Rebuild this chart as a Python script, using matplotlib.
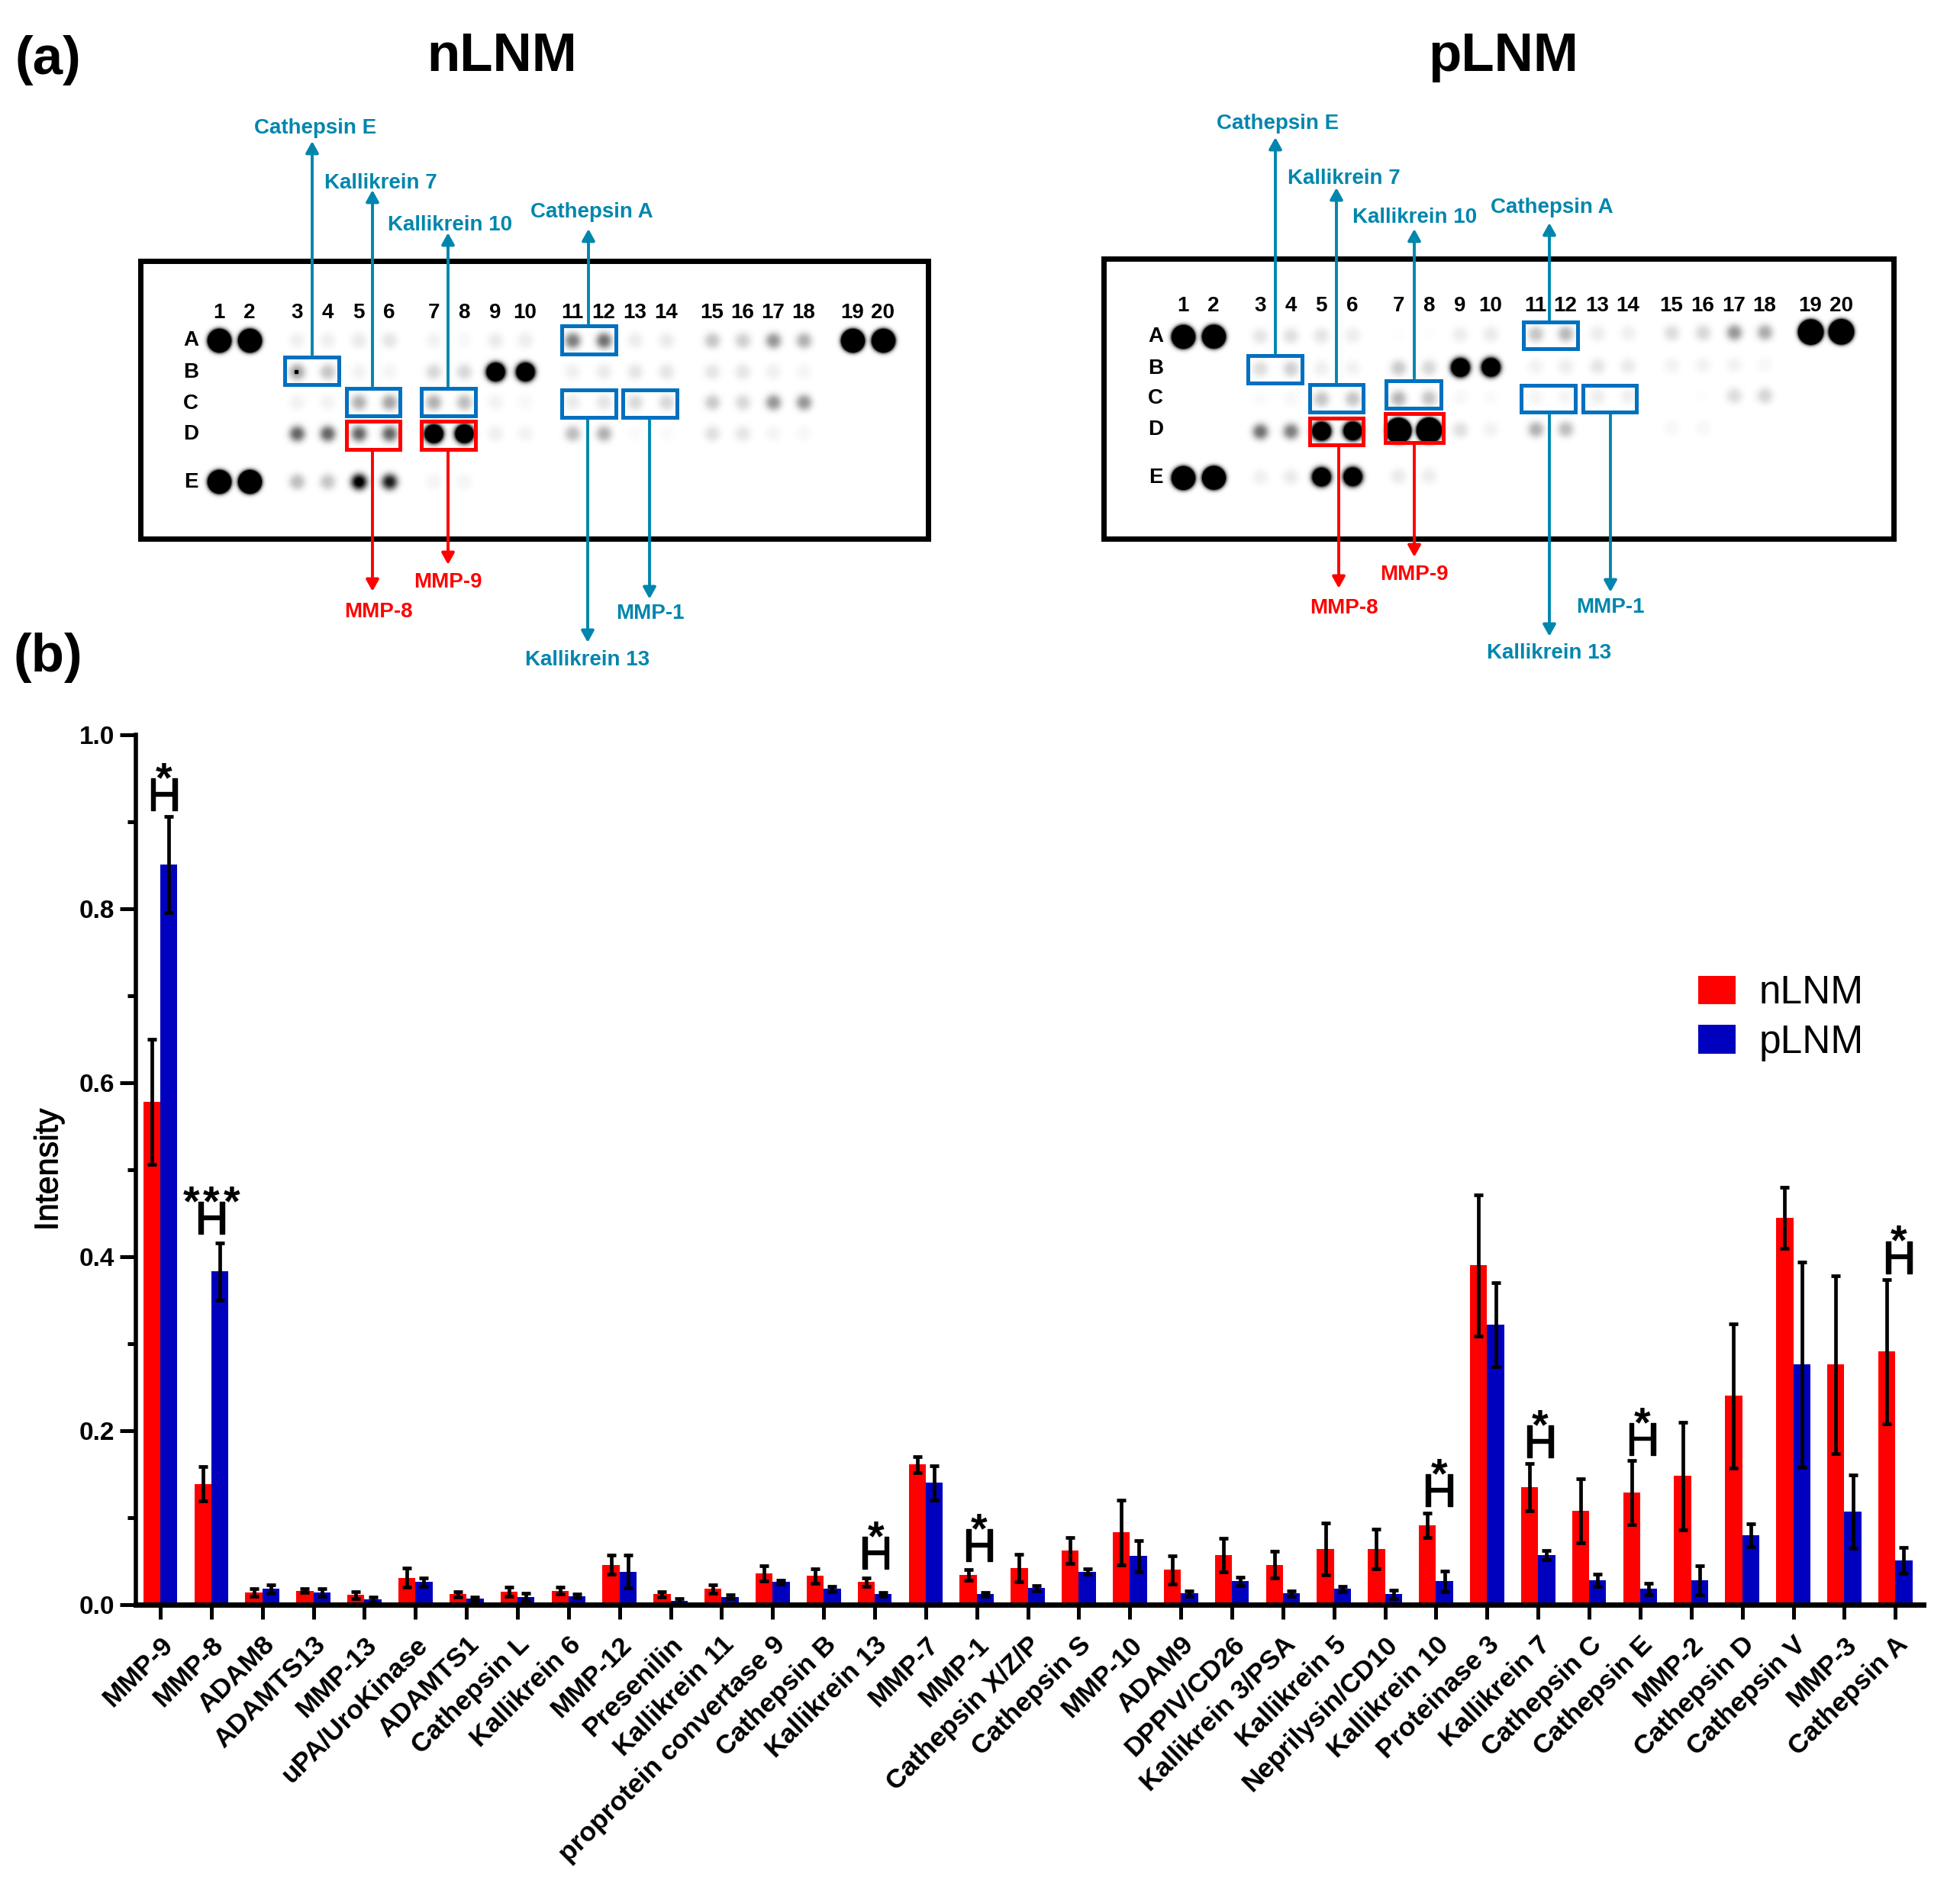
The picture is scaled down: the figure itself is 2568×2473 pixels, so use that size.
import matplotlib
matplotlib.use('Agg')
import matplotlib.pyplot as plt
import matplotlib.patheffects as pe
import numpy as np
from matplotlib.patches import Rectangle
from matplotlib.transforms import ScaledTranslation

plt.rcParams['font.family'] = ['Liberation Sans', 'DejaVu Sans']

# Panel (b) data
proteases = ['MMP-9', 'MMP-8', 'ADAM8', 'ADAMTS13', 'MMP-13', 'uPA/UroKinase', 'ADAMTS1', 'Cathepsin L',
             'Kallikrein 6', 'MMP-12', 'Presenilin', 'Kallikrein 11', 'proprotein convertase 9', 'Cathepsin B',
             'Kallikrein 13', 'MMP-7', 'MMP-1', 'Cathepsin X/Z/P', 'Cathepsin S', 'MMP-10', 'ADAM9', 'DPPIV/CD26',
             'Kallikrein 3/PSA', 'Kallikrein 5', 'Neprilysin/CD10', 'Kallikrein 10', 'Proteinase 3', 'Kallikrein 7',
             'Cathepsin C', 'Cathepsin E', 'MMP-2', 'Cathepsin D', 'Cathepsin V', 'MMP-3', 'Cathepsin A']
nlnm_mean = [0.578, 0.139, 0.014, 0.016, 0.011, 0.031, 0.012, 0.015, 0.016, 0.046, 0.012, 0.018, 0.036, 0.033,
             0.026, 0.161, 0.034, 0.042, 0.062, 0.083, 0.040, 0.057, 0.046, 0.064, 0.064, 0.091, 0.390, 0.135,
             0.108, 0.129, 0.148, 0.240, 0.445, 0.276, 0.291]
nlnm_err = [0.072, 0.020, 0.004, 0.002, 0.004, 0.011, 0.003, 0.005, 0.004, 0.011, 0.003, 0.005, 0.009, 0.008,
            0.005, 0.009, 0.006, 0.016, 0.015, 0.037, 0.016, 0.0195, 0.015, 0.030, 0.023, 0.014, 0.081, 0.027,
            0.037, 0.037, 0.062, 0.083, 0.035, 0.102, 0.083]
plnm_mean = [0.851, 0.383, 0.018, 0.014, 0.006, 0.026, 0.007, 0.009, 0.010, 0.038, 0.004, 0.009, 0.026, 0.018,
             0.012, 0.140, 0.012, 0.019, 0.038, 0.056, 0.013, 0.027, 0.013, 0.018, 0.012, 0.027, 0.322, 0.057,
             0.028, 0.018, 0.028, 0.080, 0.276, 0.107, 0.051]
plnm_err = [0.055, 0.033, 0.005, 0.004, 0.003, 0.005, 0.002, 0.004, 0.002, 0.019, 0.003, 0.002, 0.002, 0.003,
            0.002, 0.0195, 0.002, 0.003, 0.003, 0.018, 0.003, 0.005, 0.003, 0.003, 0.005, 0.012, 0.048, 0.005,
            0.007, 0.007, 0.017, 0.013, 0.118, 0.042, 0.015]

# significance marks
sig_pos = [0.07, 1.0, 14.02, 16.05, 25.06, 27.04, 29.04, 34.07]
sig_val = [0.913, 0.426, 0.041, 0.050, 0.113, 0.169, 0.172, 0.381]
sig_stars = [1, 3, 1, 1, 1, 1, 1, 1]

# Panel (a) spot darkness, rows A-E, columns 1-20
nlnm_spots = [
    [12, 12, .06, .06, .08, .10, .05, .03, .08, .07, .50, .55, .07, .08, .22, .18, .40, .30, 12, 12],
    [0, 0, .35, .22, .05, .04, .15, .15, 3.5, 3.5, .06, .08, .10, .10, .10, .10, .06, .04, 0, 0],
    [0, 0, .05, .05, .30, .35, .30, .25, .05, .03, .08, .10, .14, .15, .20, .15, .40, .40, 0, 0],
    [0, 0, .60, .60, .60, .60, 3.5, 3.5, .06, .05, .25, .30, .02, .02, .12, .10, .04, .03, 0, 0],
    [12, 12, .25, .22, 1.1, .90, .04, .04, 0, 0, 0, 0, 0, 0, 0, 0, 0, 0, 0, 0],
]
plnm_spots = [
    [12, 12, .10, .12, .10, .07, .01, .01, .07, .08, .22, .27, .07, .06, .13, .15, .40, .32, 20, 20],
    [0, 0, .13, .18, .06, .05, .20, .15, 3.5, 3.5, .05, .07, .10, .08, .05, .05, .05, .03, 0, 0],
    [0, 0, .02, .03, .22, .22, .28, .22, .03, .02, .04, .04, .07, .06, 0, .01, .13, .16, 0, 0],
    [0, 0, .55, .50, 3.5, 3.5, 20, 20, .12, .05, .30, .25, 0, 0, .03, .03, 0, 0, 0, 0],
    [12, 12, .06, .08, 3.5, 3.5, .08, .07, 0, 0, 0, 0, 0, 0, 0, 0, 0, 0, 0, 0],
]
row_names = ['A', 'B', 'C', 'D', 'E']

RED = '#ff0000'
NAVY = '#0000bf'
TEAL = '#0086ad'
BOX_BLUE = '#0070c0'

fig = plt.figure(figsize=(25.68, 24.73), dpi=100)
W, H = 2568.0, 2473.0

# Bar chart, axes placed to the pixel
y_top, y_zero, x_left, x_right = 963, 2103, 178, 2520
ax = fig.add_axes([x_left / W, 1 - y_zero / H, (x_right - x_left) / W, (y_zero - y_top) / H])
x = np.arange(len(proteases))
bar_w = 0.334
err_style = dict(ecolor='black', elinewidth=3.4, capsize=4.5, capthick=3.4)
b1 = ax.bar(x - bar_w / 2, nlnm_mean, bar_w, yerr=nlnm_err, color=RED, label='nLNM', error_kw=err_style)
b2 = ax.bar(x + bar_w / 2, plnm_mean, bar_w, yerr=plnm_err, color=NAVY, label='pLNM', error_kw=err_style)

ax.set_xlim(-0.479, 34.55)
ax.set_ylim(0, 1)
ax.spines['top'].set_visible(False)
ax.spines['right'].set_visible(False)
ax.spines['left'].set_linewidth(4)
ax.spines['bottom'].set_linewidth(5)
ax.set_yticks(np.arange(0, 1.01, 0.2))
ax.set_yticks(np.arange(0.1, 1, 0.2), minor=True)
ax.tick_params(axis='y', which='major', length=15, width=3.6, pad=5, labelsize=24)
ax.tick_params(axis='y', which='minor', length=8, width=3.6)
ax.tick_params(axis='x', length=14, width=3.6, pad=10)
for t in ax.get_yticklabels():
    t.set_fontweight('bold')
ax.set_xticks(x)
ax.set_xticklabels(proteases, rotation=45, ha='right', va='center', rotation_mode='anchor',
                   fontsize=25.5, fontweight='bold')
shift = ScaledTranslation(8 / 72, -10 / 72, fig.dpi_scale_trans)
for t in ax.get_xticklabels():
    t.set_transform(t.get_transform() + shift)
ylab = ax.set_ylabel('Intensity', fontsize=31)
ylab.set_path_effects([pe.withStroke(linewidth=0.7, foreground='black')])
ax.yaxis.set_label_coords(-0.040, 0.5)

thicker = [pe.withStroke(linewidth=1.0, foreground='black')]
for px, pv, n in zip(sig_pos, sig_val, sig_stars):
    ax.text(px, pv, 'H', fontsize=44, ha='center', va='baseline', path_effects=thicker)
    for k in range(n):
        ax.text(px + (k - (n - 1) / 2) * 0.40, pv + 0.022, '*', fontsize=40, fontweight='bold',
                ha='center', va='baseline')

ax.legend(handles=[b1, b2], loc='upper left', bbox_to_anchor=(2210 / W, 1 - 1262 / H),
          bbox_transform=fig.transFigure, frameon=False, fontsize=37, handlelength=0.95, handleheight=0.76,
          handletextpad=0.6, labelspacing=0.295, borderpad=0.3, borderaxespad=0)

# Overlay in pixel coordinates for panel (a)
ov = fig.add_axes([0, 0, 1, 1])
ov.set_xlim(0, W)
ov.set_ylim(H, 0)
ov.axis('off')
ov.patch.set_alpha(0)


def draw_blot(spots, frame, cols, rows, tilt, num_y, letter_x, letter_y):
    l, t, r, b = frame
    xx, yy = np.meshgrid(np.arange(l, r), np.arange(t, b))
    dark = np.zeros(xx.shape)
    for i, row in enumerate(spots):
        for j, level in enumerate(row):
            if level:
                cy = rows[i] + tilt * (cols[j] - cols[0])
                dist = np.hypot(xx - cols[j], yy - cy)
                dark += level * np.exp(-(dist / 10.5) ** 2.5)
    ov.imshow(1 - np.clip(dark, 0, 1), cmap='gray', vmin=0, vmax=1, extent=(l, r, b, t),
              aspect='auto', interpolation='bilinear', zorder=1)
    ov.add_patch(Rectangle((l, t), r - l, b - t, fill=False, ec='black', lw=5, zorder=2))
    for j, c in enumerate(cols):
        ov.text(c, num_y, str(j + 1), fontsize=20, fontweight='bold', ha='center', va='center', zorder=3)
    for name, ly in zip(row_names, letter_y):
        ov.text(letter_x, ly, name, fontsize=20, fontweight='bold', ha='center', va='center', zorder=3)


def draw_box(outer, color):
    l, t, r, b = outer
    ov.add_patch(Rectangle((l + 2.5, t + 2.5), r - l - 5, b - t - 5, fill=False, ec=color, lw=3.6, zorder=4))


def draw_arrow(px, start, tip, color):
    ov.annotate('', xy=(px, tip), xytext=(px, start), zorder=3,
                arrowprops=dict(arrowstyle='-|>,head_length=0.45,head_width=0.25', color=color, lw=2.8,
                                shrinkA=0, shrinkB=0, mutation_scale=20))


left_cols = [287, 327, 389, 429, 470, 510, 568, 608, 649, 688, 750, 791, 832, 873, 933, 973, 1013, 1053, 1117, 1157]
right_cols = [1550, 1590, 1651, 1691, 1731, 1772, 1832, 1872, 1913, 1953, 2012, 2051, 2093, 2133, 2190, 2231, 2272, 2312,
              2372, 2412]
draw_blot(nlnm_spots, (184, 342, 1216, 706), left_cols, [446, 487, 527, 568, 631], 0.0, 410, 250,
          [446, 488, 529, 569, 632])
draw_blot(plnm_spots, (1446, 339, 2481, 706), right_cols, [441, 484, 524, 566, 626], -0.0077, 401, 1514,
          [441, 483, 522, 563, 626])
# dark speck in spot B3 of the left blot
ov.plot([388], [487], 's', ms=2.5, color='black', zorder=2)

for box in [(370, 465, 446, 506), (451, 506, 526, 547), (549, 506, 625, 547), (733, 424, 809, 466),
            (733, 508, 809, 549), (813, 508, 889, 549),
            (1632, 463, 1708, 504), (1713, 501, 1788, 542), (1813, 496, 1890, 537), (1993, 419, 2069, 459),
            (1990, 502, 2066, 542), (2071, 502, 2146, 542)]:
    draw_box(box, BOX_BLUE)
for box in [(451, 549, 526, 591), (549, 549, 625, 591), (1713, 545, 1788, 585), (1812, 539, 1893, 582)]:
    draw_box(box, RED)

# name, arrow x, start y, tip y, label x, label y, colour
callouts = [
    ('Cathepsin E', 409, 465, 185, 413, 168, TEAL),
    ('Kallikrein 7', 488, 506, 249, 499, 240, TEAL),
    ('Kallikrein 10', 587, 506, 305, 590, 295, TEAL),
    ('Cathepsin A', 771, 424, 300, 775, 278, TEAL),
    ('Kallikrein 13', 770, 549, 842, 770, 865, TEAL),
    ('MMP-1', 851, 549, 785, 852, 804, TEAL),
    ('MMP-8', 488, 591, 775, 496, 802, RED),
    ('MMP-9', 587, 591, 740, 587, 763, RED),
    ('Cathepsin E', 1671, 463, 180, 1674, 162, TEAL),
    ('Kallikrein 7', 1751, 501, 246, 1761, 234, TEAL),
    ('Kallikrein 10', 1853, 496, 300, 1854, 285, TEAL),
    ('Cathepsin A', 2030, 419, 292, 2033, 272, TEAL),
    ('Kallikrein 13', 2030, 542, 834, 2030, 856, TEAL),
    ('MMP-1', 2110, 542, 776, 2110, 796, TEAL),
    ('MMP-8', 1754, 585, 771, 1761, 797, RED),
    ('MMP-9', 1853, 582, 730, 1853, 753, RED),
]
for name, ax_x, y0, y1, lx, ly, col in callouts:
    draw_arrow(ax_x, y0, y1, col)
    ov.text(lx, ly, name, color=col, fontsize=20, fontweight='bold', ha='center', va='center')

ov.text(658, 75, 'nLNM', fontsize=51, fontweight='bold', ha='center', va='center')
ov.text(1970, 75, 'pLNM', fontsize=51, fontweight='bold', ha='center', va='center')
ov.text(63, 79, '(a)', fontsize=51, fontweight='bold', ha='center', va='center')
ov.text(63, 862, '(b)', fontsize=51, fontweight='bold', ha='center', va='center')

fig.savefig('out.png', dpi=100)
